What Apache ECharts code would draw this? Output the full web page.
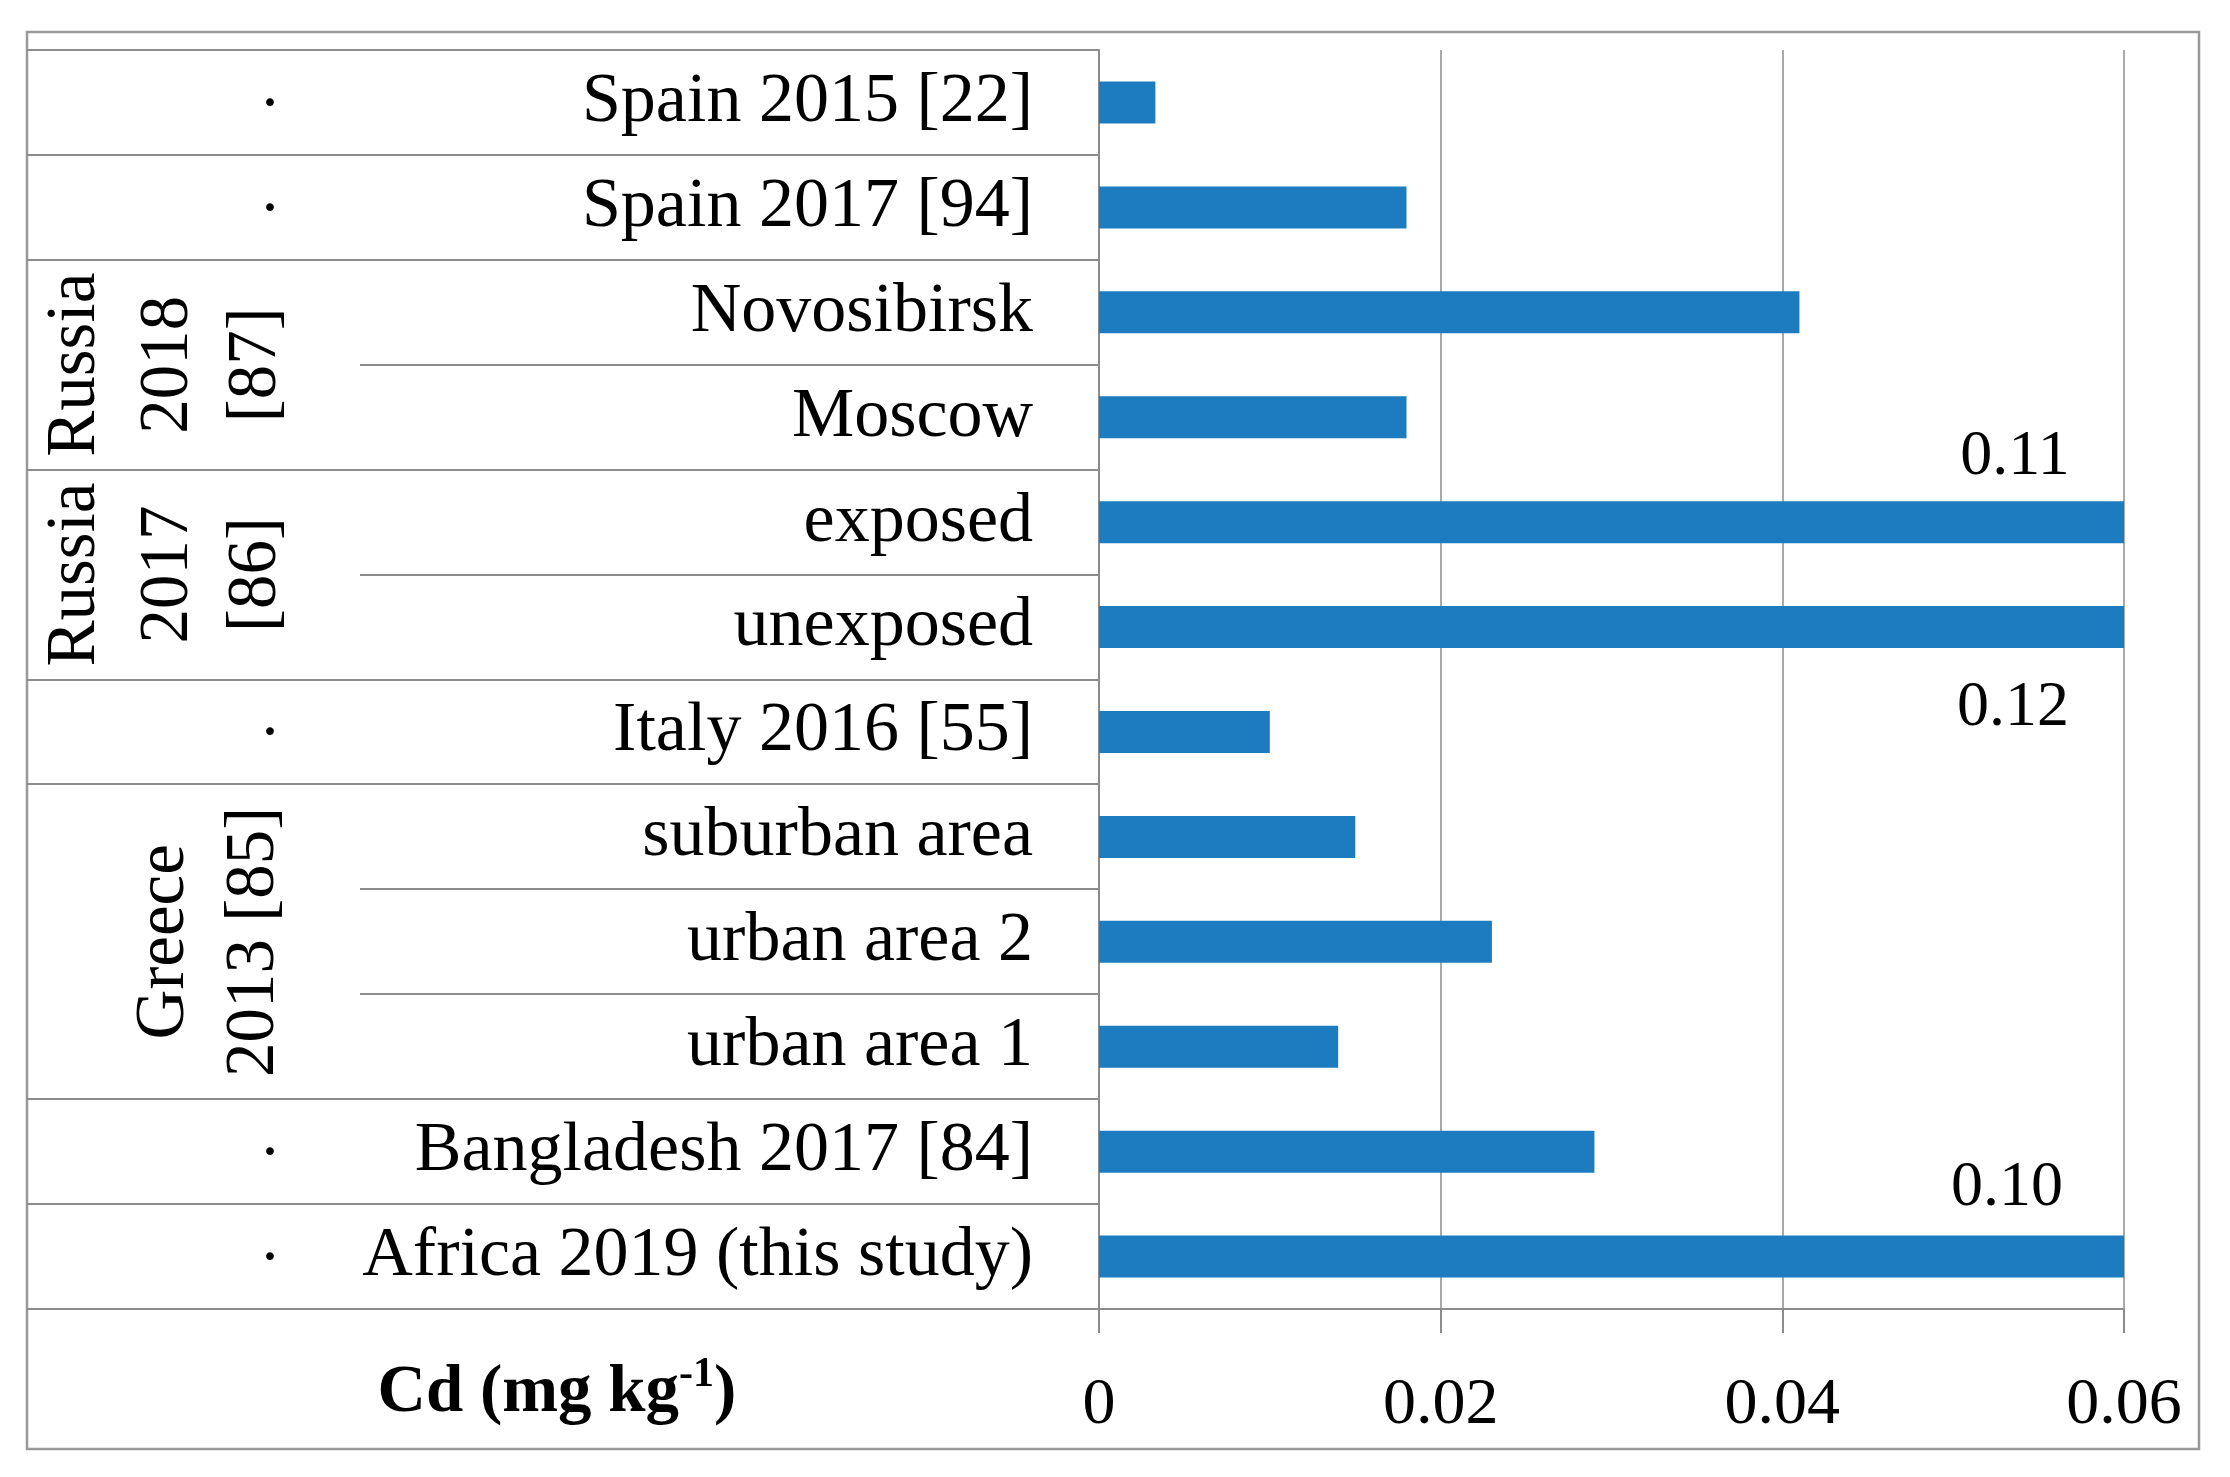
<!DOCTYPE html>
<html><head><meta charset="utf-8">
<script src="https://cdn.jsdelivr.net/npm/echarts@6/dist/echarts.min.js"></script>
<style>html,body{margin:0;padding:0;background:#fff}#c{width:2230px;height:1477px}</style>
</head><body><div id="c"></div>
<script>
// ---- data ----
const categories = ['Spain 2015 [22]','Spain 2017 [94]','Novosibirsk','Moscow','exposed','unexposed','Italy 2016 [55]','suburban area','urban area 2','urban area 1','Bangladesh 2017 [84]','Africa 2019 (this study)'];
const values = [0.0033, 0.018, 0.041, 0.018, 0.11, 0.12, 0.010, 0.015, 0.023, 0.014, 0.029, 0.10];
const groupLabels = [['Russia','2018','[87]'], ['Russia','2017','[86]'], ['Greece','2013 [85]']];
const groupRanges = [[2,3],[4,5],[7,9]];
const singleRows = [0,1,6,10,11];
const xTickLabels = ['0','0.02','0.04','0.06'];
const axisTitle = ['Cd (mg kg', '-1', ')'];

// ---- style ----
const FONT = '"Liberation Serif", "DejaVu Serif", serif';
const LINE = '#8c8c8c';
const BAR = '#1c7cbf';
const xMax = 0.06;

// labels for values beyond the axis range (offsets relative to clipped bar)
const overLabelPos = {4: [916, -44], 5: [914, 102], 11: [908, -47]};

const seriesData = values.map((v, i) => {
  const item = {value: v};
  if (v > xMax) {
    item.label = {
      show: true, position: overLabelPos[i], align: 'center', verticalAlign: 'middle',
      formatter: (p) => p.value.toFixed(2), fontFamily: FONT, fontSize: 64, color: '#000'
    };
  }
  return item;
});

const chart = echarts.init(document.getElementById('c'), null, {renderer: 'canvas'});
const option = {
  animation: false,
  backgroundColor: '#fff',
  grid: {left: 1099, right: 106, top: 50, bottom: 168, containLabel: false},
  xAxis: {
    type: 'value', min: 0, max: xMax, interval: 0.02, position: 'bottom',
    axisLine: {show: true, lineStyle: {color: LINE, width: 2}},
    axisTick: {show: true, length: 24, lineStyle: {color: LINE, width: 2}},
    splitLine: {show: true, lineStyle: {color: LINE, width: 1.5}},
    axisLabel: {
      margin: 64, fontFamily: FONT, fontSize: 66, color: '#000',
      formatter: (v) => xTickLabels[Math.round(v / 0.02)]
    }
  },
  yAxis: {
    type: 'category', inverse: true, data: categories,
    axisLine: {show: true, lineStyle: {color: LINE, width: 2}},
    axisTick: {show: false},
    axisLabel: {margin: 66, fontFamily: FONT, fontSize: 70, color: '#000'}
  },
  series: [{
    type: 'bar', data: seriesData, barWidth: 42, clip: true,
    itemStyle: {color: BAR},
    label: {show: false}
  }]
};
chart.setOption(option);

// ---- table decoration derived from the axis ----
const c0 = chart.convertToPixel({yAxisIndex: 0}, 0);
const c1 = chart.convertToPixel({yAxisIndex: 0}, 1);
const bandH = c1 - c0;
const tableTop = c0 - bandH / 2;
const boundary = (k) => tableTop + bandH * k; // boundary above row k
const axisX = chart.convertToPixel({xAxisIndex: 0}, 0);
const leftX = 27, subX = 360;

const elements = [];
// outer border
elements.push({type: 'rect', shape: {x: 27, y: 32, width: 2172, height: 1417}, style: {fill: null, stroke: '#999', lineWidth: 2.5}, z: 10});
// horizontal table lines
const partial = new Set();
groupRanges.forEach(([a, b]) => { for (let k = a + 1; k <= b; k++) partial.add(k); });
for (let k = 0; k <= categories.length; k++) {
  const y = Math.round(boundary(k));
  const x1 = partial.has(k) ? subX : leftX;
  elements.push({type: 'line', shape: {x1: x1, y1: y, x2: axisX, y2: y}, style: {stroke: LINE, lineWidth: 2}, z: 10});
}
// dots for single rows
singleRows.forEach((r) => {
  elements.push({type: 'text', x: 270, y: chart.convertToPixel({yAxisIndex: 0}, r) + 4,
    style: {text: '·', font: '66px ' + FONT, fill: '#000', align: 'center', verticalAlign: 'middle'}, z: 10});
});
// group labels (rotated)
const colX = {3: [76, 169, 257], 2: [165, 255]};
groupLabels.forEach((lines, gi) => {
  const [a, b] = groupRanges[gi];
  const cy = (boundary(a) + boundary(b + 1)) / 2;
  const xs = colX[lines.length];
  lines.forEach((t, li) => {
    elements.push({type: 'text', x: xs[li], y: cy, rotation: Math.PI / 2,
      style: {text: t, font: '69px ' + FONT, fill: '#000', align: 'center', verticalAlign: 'middle'}, z: 10});
  });
});
// axis title with superscript
elements.push({type: 'text', x: 557, y: 1394, z: 10,
  style: {
    text: '{a|' + axisTitle[0] + '}{s|' + axisTitle[1] + '}{a|' + axisTitle[2] + '}',
    align: 'center', verticalAlign: 'middle',
    rich: {
      a: {fontFamily: FONT, fontSize: 67, fontWeight: 'bold', fill: '#000', lineHeight: 80, verticalAlign: 'middle'},
      s: {fontFamily: FONT, fontSize: 42, fontWeight: 'bold', fill: '#000', lineHeight: 44, verticalAlign: 'top'}
    }
  }});
chart.setOption({graphic: {elements: elements}});
</script>
</body></html>
